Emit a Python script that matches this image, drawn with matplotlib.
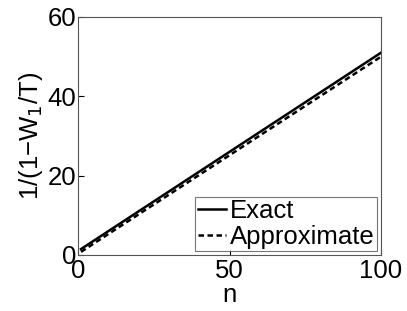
import matplotlib
matplotlib.use("Agg")
import matplotlib.pyplot as plt

n = [1, 100]
exact = [1.5, 51.0]
approx = [0.8, 50.0]
xticks = [0, 50, 100]
yticks = [0, 20, 40, 60]

plt.rcParams['font.family'] = ['Liberation Sans', 'DejaVu Sans']
fig = plt.figure(figsize=(4.07, 3.11), dpi=100)
ax = fig.add_axes([78/407, 1-255/311, (381-78)/407, (255-17)/311])
ax.plot(n, exact, 'k-', lw=1.8, label='Exact')
ax.plot(n, approx, 'k--', lw=1.8, dashes=(2.2, 1.4), label='Approximate')
ax.set_xlim(0, 100)
ax.set_ylim(0, 60)
ax.set_xticks(xticks)
ax.set_yticks(yticks)
ax.tick_params(direction='in', labelsize=18.5, length=4)
ax.tick_params(axis='x', pad=3)
ax.tick_params(axis='y', pad=1)
for s in ax.spines.values():
    s.set_color('#555555')
    s.set_linewidth(0.8)
ax.set_xlabel('n', fontsize=18.5, labelpad=0)
ax.set_ylabel('1/(1−W$_1$/T)', fontsize=18.5, labelpad=2)
leg = ax.legend(loc='lower right', fontsize=18.5, frameon=True, fancybox=False,
                edgecolor='#555555', handlelength=1.1, handletextpad=0.15,
                borderpad=0.1, labelspacing=0.05, borderaxespad=0.15)
leg.get_frame().set_linewidth(0.8)
fig.savefig('out.png', dpi=100)
